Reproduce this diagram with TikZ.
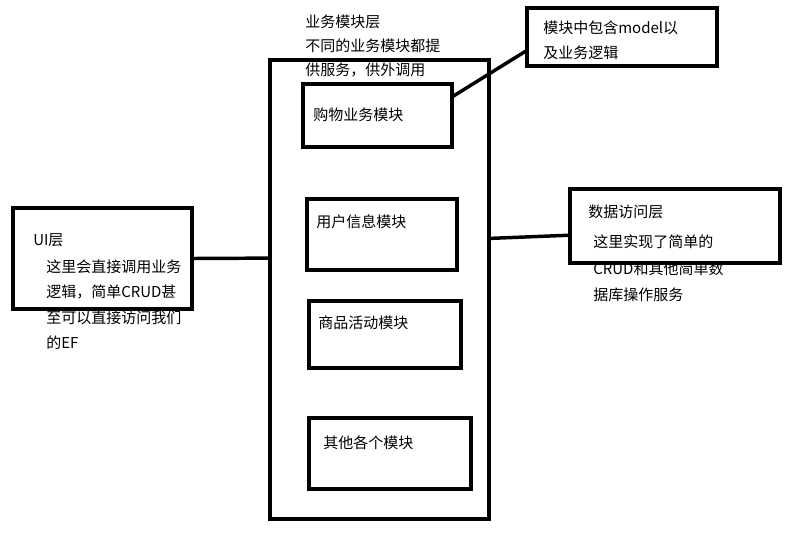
\documentclass[tikz,border=0pt]{standalone}
\usepackage{fontspec}
\setmainfont{Noto Sans CJK SC}
\tikzset{
  box/.style 2 args={draw, line width=2.6pt, inner sep=0pt, outer sep=0pt,
    minimum width=#1*0.75pt, minimum height=#2*0.75pt},
  txt/.style={inner sep=0pt, align=left, font=\fontsize{11.25}{19}\selectfont},
  link/.style={line width=2.6pt}
}
\begin{document}
\begin{tikzpicture}[x=0.75pt, y=-0.75pt]
			\fill[white] (0,0) rectangle (804,544);
			\useasboundingbox (0,0) rectangle (804,544);
			% texts first, the borders go over them
			\node[txt, anchor=north west, font=\fontsize{11.25}{18}\selectfont] (bizlabel) at (305,14.5) {业务模块层\\不同的业务模块都提\\供服务，供外调用};
			\node[txt, anchor=west] (shoplabel) at (313,115) {购物业务模块};
			\node[txt, anchor=west] (userlabel) at (316,222) {用户信息模块};
			\node[txt, anchor=west] (goodslabel) at (318,323) {商品活动模块};
			\node[txt, anchor=west] (otherlabel) at (323,443) {其他各个模块};
			\node[txt, anchor=west] (uititle) at (33,240) {UI层};
			\node[txt, anchor=north west] (uitext) at (46,259.5) {这里会直接调用业务\\逻辑，简单CRUD甚\\至可以直接访问我们\\的EF};
			\node[txt, anchor=north west] (modeltext) at (543,20.5) {模块中包含model以\\及业务逻辑};
			\node[txt, anchor=west] (datatitle) at (588,212) {数据访问层};
			\node[txt, anchor=north west, font=\fontsize{11.25}{20}\selectfont] (datatext) at (593,234.5) {这里实现了简单的\\CRUD和其他简单数\\据库操作服务};
			% boxes
			\node[box={219}{459}] (biz) at (379.5,289.5) {};
			\node[box={149}{63}] (shop) at (377.5,115.5) {};
			\node[box={150}{71}] (user) at (382,234.5) {};
			\node[box={152}{67}] (goods) at (385,334.5) {};
			\node[box={162}{71}] (other) at (390,453.5) {};
			\node[box={179}{101}] (ui) at (102.5,258.5) {};
			\node[box={190}{58}] (model) at (622,37) {};
			\node[box={210}{74}] (data) at (675,226) {};
			% links
			\draw[link] (ui.east) -- (biz.164);
			\draw[link] (shop.14) -- (model.188);
			\draw[link] (biz.25) -- (data.185);
\end{tikzpicture}
\end{document}
